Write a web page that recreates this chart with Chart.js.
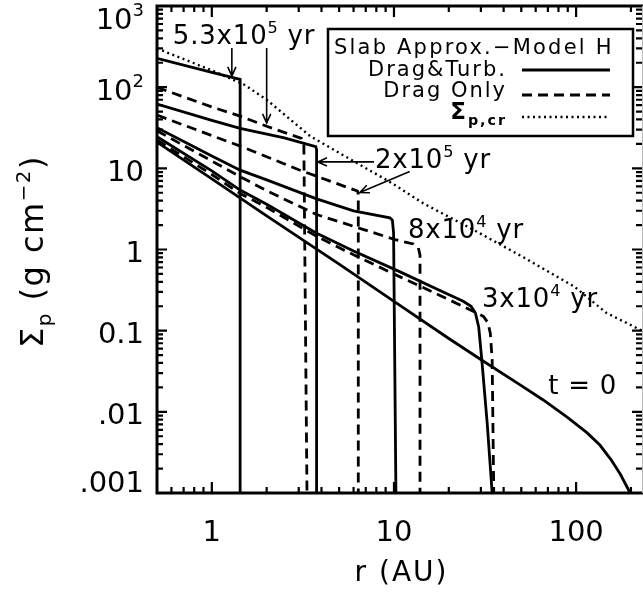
<!DOCTYPE html>
<html lang="en">
<head>
<meta charset="UTF-8">
<title>Slab Approx. - Model H</title>
<script src="https://cdn.jsdelivr.net/npm/chart.js"></script>
<style>
  body { margin: 0; background: #fff; }
</style>
</head>
<body>
<canvas id="grafico" width="643" height="597"></canvas>
<script>
// r (AU) and Sigma_p (g cm^-2)
const r_t0 = [0.5, 1, 2, 5, 10, 20, 31, 50, 66, 90, 115, 135, 155, 175, 198];
const s_t0 = [21, 7.4, 2.6, 0.66, 0.23, 0.08, 0.042, 0.021, 0.014, 0.0085, 0.0055, 0.0039, 0.0026, 0.0017, 0.001];

const r_turb3e4 = [0.5, 1, 1.43, 2, 3.74, 6, 10.8, 18, 24, 26.5, 28, 29.2, 30.4, 32.5, 34.6];
const s_turb3e4 = [24.5, 9.3, 5.4, 3.6, 1.6, 0.96, 0.53, 0.31, 0.23, 0.2, 0.165, 0.11, 0.042, 0.0072, 0.001];
const r_drag3e4 = [0.5, 1, 1.43, 2, 3.76, 6, 10.8, 18, 27, 31, 32.8, 33.8, 34.6, 35.3];
const s_drag3e4 = [22.3, 8.4, 4.9, 3.3, 1.45, 0.86, 0.46, 0.27, 0.175, 0.15, 0.125, 0.093, 0.044, 0.001];

const r_turb8e4 = [0.5, 1, 1.43, 2, 3.76, 6, 9.5, 9.8, 9.95, 10.25];
const s_turb8e4 = [31.6, 14.2, 9.5, 7.2, 4.2, 3.0, 2.45, 2.3, 1.6, 0.001];
const r_drag8e4 = [0.5, 1, 1.43, 2, 3.76, 6, 10.3, 12.8, 13.6, 13.9, 13.9];
const s_drag8e4 = [29, 12.3, 7.9, 5.3, 2.7, 1.93, 1.31, 1.17, 1.05, 0.85, 0.001];

const r_turb2e5 = [0.5, 1, 1.43, 2.5, 3.72, 3.76, 3.76];
const s_turb2e5 = [62, 39, 31, 23.7, 18.5, 17, 0.001];
const r_drag2e5 = [0.5, 1, 1.43, 3, 6.3, 6.37, 6.37];
const s_drag2e5 = [45.3, 25.3, 18.8, 9.6, 5.25, 4.8, 0.001];

const r_turb53e5 = [0.5, 1, 1.43, 1.43];
const s_turb53e5 = [226, 152, 125, 0.001];
const r_drag53e5 = [0.5, 1, 1.43, 2, 3.11, 3.2, 3.33];
const s_drag53e5 = [99.5, 57, 44, 33, 23.4, 21, 0.001];

const r_crit = [0.5, 1, 1.5, 2, 3.46, 5, 9.5, 14.5, 27.4, 51.5, 97.6, 147, 230];
const s_crit = [300, 161, 108, 70, 25, 15.5, 6.8, 3.7, 1.74, 0.8, 0.35, 0.165, 0.1];

// axes
const xTicks = [1, 10, 100];
const xTickLabels = ['1', '10', '100'];
const yTicks = [0.001, 0.01, 0.1, 1, 10, 100, 1000];
const yTickLabels = ['.001', '.01', '0.1', '1', '10', '10^{2}', '10^{3}'];

// annotation labels (anchor = left end of baseline, data coords) and arrows
const notes = [
  { text: '5.3x10^{5} yr', r: 0.611, s: 340 },
  { text: '2x10^{5} yr', r: 7.86, s: 10.1 },
  { text: '8x10^{4} yr', r: 11.94, s: 1.39 },
  { text: '3x10^{4} yr', r: 30.4, s: 0.196 },
  { text: 't = 0', r: 70.2, s: 0.0166 }
];
const arrows = [
  { from: [1.288, 304], to: [1.288, 137] },
  { from: [2.0, 304], to: [2.0, 36.2] },
  { from: [7.77, 12.0], to: [3.82, 12.0] },
  { from: [12.2, 9.14], to: [6.5, 5.04] }
];

const FONT = '"DejaVu Sans", sans-serif';
const SOLID = [], DASH = [10, 6], DOT = [2, 3.5];

const pts = (rs, ss) => rs.map((r, i) => ({ x: r, y: ss[i] }));
const serie = (rs, ss, dash, w) => ({
  data: pts(rs, ss), showLine: true, borderColor: '#000', borderWidth: w || 2.8,
  borderDash: dash, pointRadius: 0, tension: 0, fill: false
});

// text with ^{sup} and _{sub}
function parseRich(str) {
  const out = [];
  const re = /([\^_])\{([^}]*)\}|([^\^_]+)/g;
  let m;
  while ((m = re.exec(str))) {
    if (m[3]) out.push({ t: m[3], mode: 0 });
    else out.push({ t: m[2], mode: m[1] === '^' ? 1 : -1 });
  }
  return out;
}
function drawRich(ctx, str, x, y, size, align, spacing, weight) {
  const parts = parseRich(str);
  const wt = weight ? weight + ' ' : '';
  ctx.letterSpacing = (spacing || 0) + 'px';
  let w = 0;
  parts.forEach(p => {
    p.size = p.mode ? size * 0.62 : size;
    ctx.font = wt + p.size + 'px ' + FONT;
    p.w = ctx.measureText(p.t).width;
    w += p.w;
  });
  let cx = align === 'right' ? x - w : align === 'center' ? x - w / 2 : x;
  ctx.textAlign = 'left';
  ctx.textBaseline = 'alphabetic';
  parts.forEach(p => {
    ctx.font = wt + p.size + 'px ' + FONT;
    const dy = p.mode === 1 ? -size * 0.42 : p.mode === -1 ? size * 0.24 : 0;
    ctx.fillText(p.t, cx, y + dy);
    cx += p.w;
  });
  ctx.letterSpacing = '0px';
}

function arrowHead(ctx, x0, y0, x1, y1) {
  const a = Math.atan2(y1 - y0, x1 - x0), L = 10, h = 0.42;
  ctx.beginPath();
  ctx.moveTo(x0, y0); ctx.lineTo(x1, y1);
  ctx.moveTo(x1 - L * Math.cos(a - h), y1 - L * Math.sin(a - h));
  ctx.lineTo(x1, y1);
  ctx.lineTo(x1 - L * Math.cos(a + h), y1 - L * Math.sin(a + h));
  ctx.stroke();
}

const idlFrame = {
  id: 'idlFrame',
  afterDraw(chart) {
    const ctx = chart.ctx, a = chart.chartArea;
    const xs = chart.scales.x, ys = chart.scales.y;
    ctx.save();
    ctx.strokeStyle = '#000'; ctx.fillStyle = '#000';

    // frame
    ctx.lineWidth = 3;
    ctx.beginPath();
    ctx.moveTo(a.right + 1, a.top); ctx.lineTo(a.left, a.top);
    ctx.lineTo(a.left, a.bottom); ctx.lineTo(a.right + 1, a.bottom);
    ctx.stroke();
    ctx.strokeStyle = '#bbb'; ctx.lineWidth = 1;
    ctx.beginPath(); ctx.moveTo(a.right + 0.5, a.top); ctx.lineTo(a.right + 0.5, a.bottom); ctx.stroke();
    ctx.strokeStyle = '#000';

    // inward ticks
    ctx.lineWidth = 2.2;
    ctx.beginPath();
    for (let n = -1; n <= 2; n++) {
      for (let k = 1; k <= 9; k++) {
        const v = k * Math.pow(10, n);
        if (v <= xs.min || v >= xs.max) continue;
        const px = xs.getPixelForValue(v), len = k === 1 ? 11 : 6;
        ctx.moveTo(px, a.bottom); ctx.lineTo(px, a.bottom - len);
        ctx.moveTo(px, a.top); ctx.lineTo(px, a.top + len);
      }
    }
    for (let n = -3; n <= 3; n++) {
      for (let k = 1; k <= 9; k++) {
        const v = k * Math.pow(10, n);
        if (v < ys.min || v > ys.max) continue;
        const py = ys.getPixelForValue(v), len = k === 1 ? 10 : 6;
        ctx.moveTo(a.left, py); ctx.lineTo(a.left + len, py);
        ctx.moveTo(a.right, py); ctx.lineTo(a.right - len, py);
      }
    }
    ctx.stroke();

    // tick labels
    yTicks.forEach((v, i) => {
      const c = Math.min(Math.max(ys.getPixelForValue(v) + 2, 18), 481);
      drawRich(ctx, yTickLabels[i], a.left - 13, c + 10.5, 29, 'right');
    });
    xTicks.forEach((v, i) => {
      drawRich(ctx, xTickLabels[i], xs.getPixelForValue(v), a.bottom + 48, 29, 'center');
    });

    // axis titles
    drawRich(ctx, 'r (AU)', (a.left + a.right) / 2 + 2, a.bottom + 88, 28, 'center', 2);
    ctx.save();
    ctx.translate(43, (a.top + a.bottom) / 2 + 2);
    ctx.rotate(-Math.PI / 2);
    drawRich(ctx, 'Σ_{p} (g cm^{−2})', 0, 0, 32, 'center', 1.5);
    ctx.restore();

    // annotations
    notes.forEach(n => {
      drawRich(ctx, n.text, xs.getPixelForValue(n.r), ys.getPixelForValue(n.s), 26, 'left', 0.8);
    });
    ctx.lineWidth = 1.6;
    arrows.forEach(ar => {
      arrowHead(ctx, xs.getPixelForValue(ar.from[0]), ys.getPixelForValue(ar.from[1]),
        xs.getPixelForValue(ar.to[0]), ys.getPixelForValue(ar.to[1]));
    });

    // legend
    const bx = 328, by = 29, bw = 305, bh = 107;
    ctx.fillStyle = '#fff';
    ctx.fillRect(bx, by, bw, bh);
    ctx.fillStyle = '#000';
    ctx.lineWidth = 2.5;
    ctx.strokeRect(bx, by, bw, bh);
    drawRich(ctx, 'Slab Approx.−Model H', 334, 54, 21, 'left', 2.2);
    const rows = [
      { t: 'Drag&Turb.', dash: SOLID, y: 76, ly: 70, w: 2.8, size: 21, wt: '' },
      { t: 'Drag Only', dash: DASH, y: 97, ly: 95, w: 2.8, size: 21, wt: '' },
      { t: 'Σ_{p,cr}', dash: DOT, y: 119, ly: 117, w: 2.4, size: 23, wt: 'bold' }
    ];
    rows.forEach(rw => {
      drawRich(ctx, rw.t, 507, rw.y, rw.size, 'right', 2, rw.wt);
      ctx.lineWidth = rw.w;
      ctx.setLineDash(rw.dash);
      ctx.beginPath(); ctx.moveTo(522, rw.ly); ctx.lineTo(610, rw.ly); ctx.stroke();
      ctx.setLineDash([]);
    });
    ctx.restore();
  }
};

const grafico = new Chart(document.getElementById('grafico'), {
  type: 'scatter',
  data: {
    datasets: [
      serie(r_crit, s_crit, DOT, 2.4),
      serie(r_t0, s_t0, SOLID),
      serie(r_turb3e4, s_turb3e4, SOLID),
      serie(r_drag3e4, s_drag3e4, DASH),
      serie(r_turb8e4, s_turb8e4, SOLID),
      serie(r_drag8e4, s_drag8e4, DASH),
      serie(r_turb2e5, s_turb2e5, SOLID),
      serie(r_drag2e5, s_drag2e5, DASH),
      serie(r_turb53e5, s_turb53e5, SOLID),
      serie(r_drag53e5, s_drag53e5, DASH)
    ]
  },
  options: {
    responsive: false,
    animation: false,
    devicePixelRatio: 1,
    layout: { padding: { top: 6, right: 1, left: 0, bottom: 0 } },
    plugins: { legend: { display: false }, tooltip: { enabled: false } },
    scales: {
      x: {
        type: 'logarithmic', min: 0.5, max: 230,
        grid: { display: false }, border: { display: false },
        ticks: { display: false },
        afterFit(s) { s.height = 104; s.paddingLeft = 0; s.paddingRight = 0; }
      },
      y: {
        type: 'logarithmic', min: 0.001, max: 1000,
        grid: { display: false }, border: { display: false },
        ticks: { display: false },
        afterFit(s) { s.width = 157; s.paddingTop = 0; s.paddingBottom = 0; }
      }
    }
  },
  plugins: [idlFrame]
});
</script>
</body>
</html>
